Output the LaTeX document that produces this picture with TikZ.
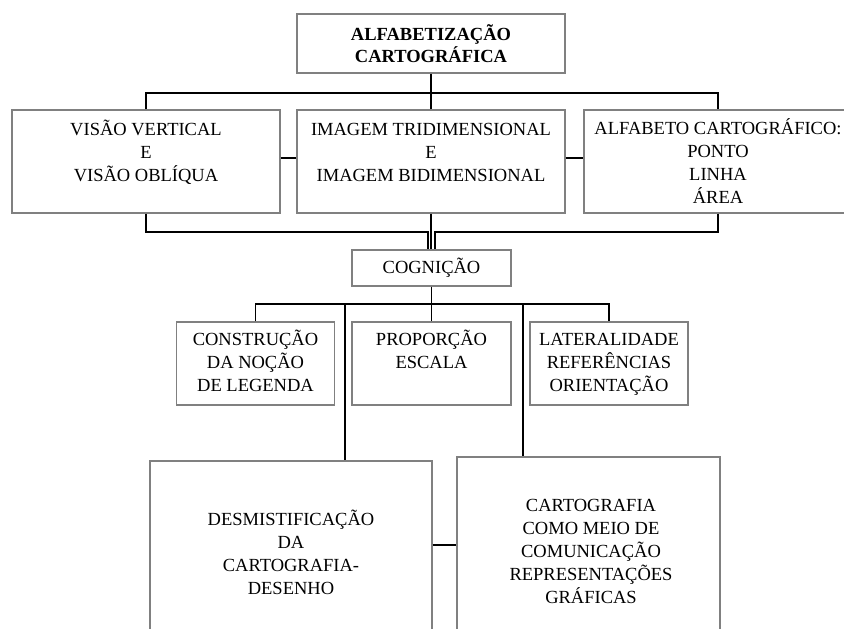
\documentclass[tikz,border=0pt]{standalone}
\usepackage{fontspec}
\setmainfont{Liberation Serif}
\usetikzlibrary{positioning}
\tikzset{box/.style={draw=black!50,line width=1.3pt,inner sep=0pt,on grid},
  txt/.style={align=center,inner sep=0pt,font=\fontsize{18.5}{23}\selectfont},
  link/.style={line width=1.3pt}}

\begin{document}
\begin{tikzpicture}[x=1pt,y=-1pt]
    \useasboundingbox (0,0) rectangle (844,629);
    \clip (0,0) rectangle (844,629);
    \node[box, txt, minimum width=268pt, minimum height=59pt, font=\fontsize{18.5}{22.5}\selectfont\bfseries] (alfa) at (431,43.5) {ALFABETIZAÇÃO\\CARTOGRÁFICA};
    \node[box, minimum width=268pt, minimum height=103pt] (ima) [below = 118pt of alfa] {};
    \node[box, minimum width=268pt, minimum height=103pt] (vis) [left = 285pt of ima] {};
    \node[box, minimum width=268pt, minimum height=103pt] (alf) [right = 287pt of ima] {};
    % base = last line of the text
    \node[txt, anchor=base, yshift=-72pt] (vis-t) at (vis.north) {VISÃO VERTICAL\\E\\VISÃO OBLÍQUA};
    \node[txt, anchor=base, yshift=-72pt] (ima-t) at (ima.north) {IMAGEM TRIDIMENSIONAL\\E\\IMAGEM BIDIMENSIONAL};
    \node[txt, anchor=base, yshift=-94.5pt] (alf-t) at (alf.north) {ALFABETO CARTOGRÁFICO:\\PONTO\\LINHA\\ÁREA};

    \node[box, txt, minimum width=159pt, minimum height=36pt] (cog) [below right = 106.5pt and 0.5pt of ima] {COGNIÇÃO};
    \node[box, minimum width=159pt, minimum height=83pt] (prop) [below = 95.5pt of cog] {};
    \node[box, minimum width=158pt, minimum height=83pt] (cons) [left = 176pt of prop] {};
    \node[box, minimum width=158pt, minimum height=83pt] (lat) [right = 177.5pt of prop] {};
    \node[txt, anchor=base, yshift=-70pt] (cons-t) at (cons.north) {CONSTRUÇÃO\\DA NOÇÃO\\DE LEGENDA};
    \node[txt, anchor=base, yshift=-47.5pt] (prop-t) at (prop.north) {PROPORÇÃO\\ESCALA};
    \node[txt, anchor=base, yshift=-70pt] (lat-t) at (lat.north) {LATERALIDADE\\REFERÊNCIAS\\ORIENTAÇÃO};

    \node[box, minimum width=282pt, minimum height=179pt] (des) at (291,550.5) {};
    \node[box, minimum width=263pt, minimum height=183pt] (com) at (588.5,548.5) {};
    \node[txt, anchor=base, yshift=-134pt] (des-t) at (des.north) {DESMISTIFICAÇÃO\\DA\\CARTOGRAFIA-\\DESENHO};
    \node[txt, anchor=base, yshift=-147pt, xshift=2.5pt] (com-t) at (com.north) {CARTOGRAFIA\\COMO MEIO DE\\COMUNICAÇÃO\\REPRESENTAÇÕES\\GRÁFICAS};

    % levels of the connectors
    \coordinate (t1) at (0,93);
    \coordinate (t2) at (0,232);
    \coordinate (t3) at (0,304);
    \coordinate (cm) at (0,545);
    \coordinate (cl) at ([xshift=-3.5pt]cog.north);
    \coordinate (cr) at ([xshift=3.5pt]cog.north);
    \coordinate (l1) at (345,304);
    \coordinate (l2) at (523,304);

    \draw[link] (alfa.south) -- (alfa.south |- t1);
    \draw[link] (vis.north) |- (alf.north |- t1) -- (alf.north);
    \draw[link] (ima.north) -- (ima.north |- t1);
    \draw[link] ([yshift=3.5pt]vis.east) -- ([yshift=3.5pt]ima.west);
    \draw[link] ([yshift=3.5pt]ima.east) -- ([yshift=3.5pt]alf.west);

    \draw[link] (vis.south) |- (cl |- t2) -- (cl);
    \draw[link] (alf.south) |- (cr |- t2) -- (cr);
    \draw[link] (ima.south) -- (ima.south |- cog.north);

    \draw[link] (cog.south) -- (cog.south |- t3);
    \draw[link] (cons.north) |- (lat.north |- t3) -- (lat.north);
    \draw[link] (prop.north) -- (prop.north |- t3);
    \draw[link] (l1) -- (l1 |- des.north);
    \draw[link] (l2) -- (l2 |- com.north);
    \draw[link] (des.east |- cm) -- (com.west |- cm);
\end{tikzpicture}
\end{document}
